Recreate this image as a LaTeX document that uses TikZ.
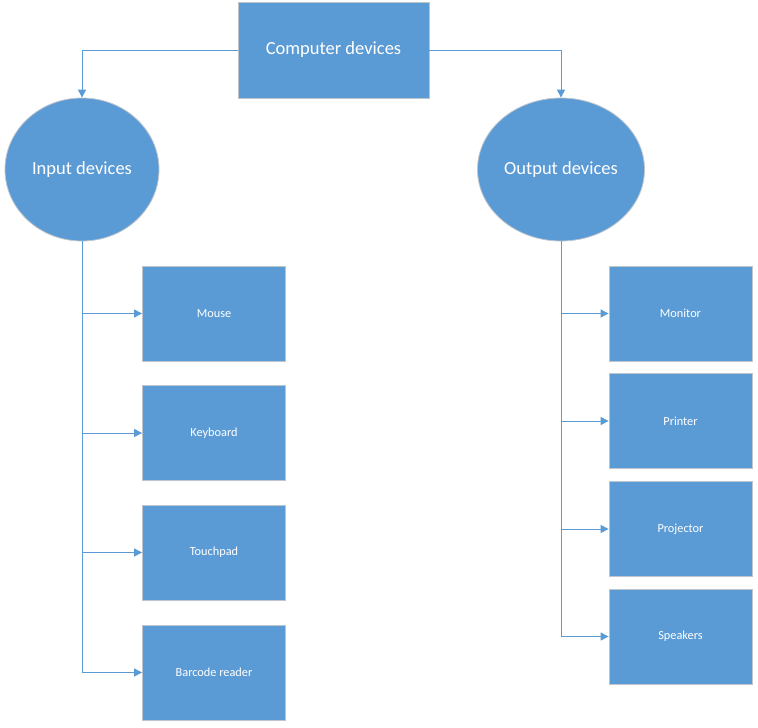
\documentclass[tikz,border=0pt]{standalone}
\usepackage{fontspec}
\setmainfont{Carlito}
\usetikzlibrary{shapes.geometric,arrows.meta}
\definecolor{boxblue}{HTML}{5B9BD5}
\definecolor{edgegray}{HTML}{BFC5CC}
\definecolor{linkblue}{HTML}{5B9BD5}
\begin{document}
\begin{tikzpicture}[x=1pt,y=-1pt,
  bigbox/.style={draw=edgegray,line width=0.8pt,fill=boxblue,text=white,minimum width=191pt,minimum height=96pt,inner sep=0pt,font=\fontsize{18.5}{22}\selectfont},
  oval/.style={ellipse,draw=edgegray,line width=0.8pt,fill=boxblue,text=white,minimum height=143pt,inner sep=0pt,font=\fontsize{18.5}{22}\selectfont},
  leaf/.style={draw=edgegray,line width=0.8pt,fill=boxblue,text=white,minimum width=143pt,minimum height=95pt,inner sep=0pt,font=\fontsize{12.3}{14}\selectfont},
  link/.style={draw=linkblue,line width=1pt,-{Triangle[length=8pt,width=8pt]}}
]
\useasboundingbox (0,0) rectangle (758,728);
\node[bigbox] (top) at (333.5,50) {Computer devices};
\node[oval,minimum width=154pt] (in) at (82,169.5) {Input devices};
\node[oval,minimum width=167pt] (out) at (561,169.5) {Output devices};
\node[leaf] (mouse) at (214,313.5) {Mouse};
\node[leaf] (kbd) at (214,433) {Keyboard};
\node[leaf] (touch) at (214,552.5) {Touchpad};
\node[leaf] (bar) at (214,672.5) {Barcode reader};
\node[leaf] (mon) at (680.5,313.5) {Monitor};
\node[leaf] (prn) at (680.5,421) {Printer};
\node[leaf] (proj) at (680.5,529) {Projector};
\node[leaf] (spk) at (680.5,636.5) {Speakers};
\draw[link] (top.west) -| (in.north);
\draw[link] (top.east) -| (out.north);
\foreach \n in {mouse,kbd,touch,bar}{\draw[link] (in.south) |- (\n.west);}
\foreach \n in {mon,prn,proj,spk}{\draw[link] (out.south) |- (\n.west);}
\end{tikzpicture}
\end{document}
